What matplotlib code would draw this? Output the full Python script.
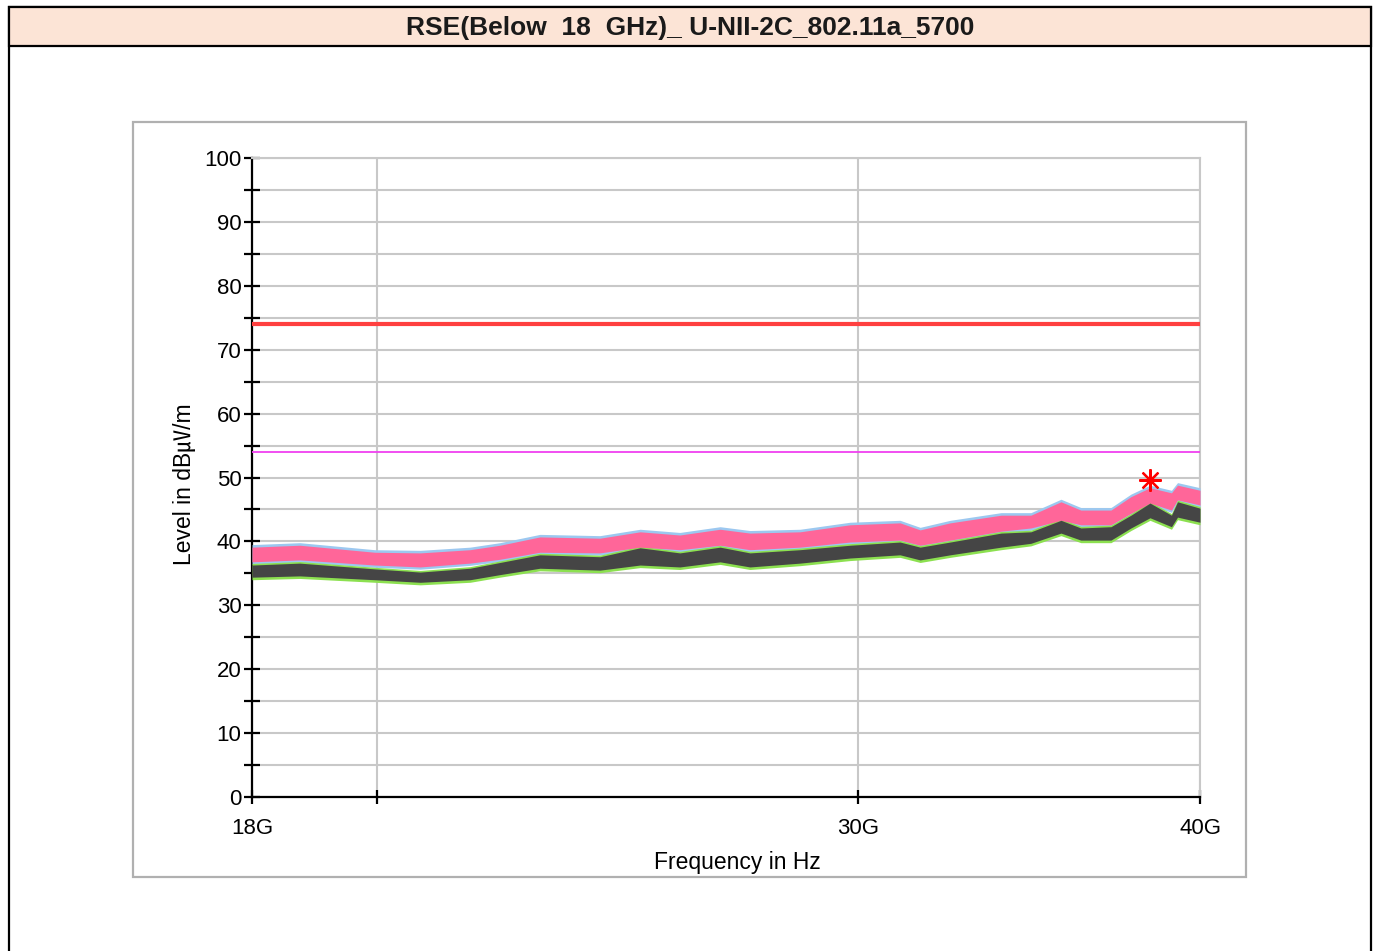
import matplotlib
matplotlib.use("Agg")
import matplotlib.pyplot as plt
from matplotlib.patches import Rectangle
from matplotlib.ticker import FixedLocator, NullFormatter, FixedFormatter

# ---------------- data ----------------
title_text = "RSE(Below  18  GHz)_ U-NII-2C_802.11a_5700"

freq_ghz = [18.0, 18.74, 19.96, 20.74, 21.63, 22.18, 22.94, 24.13, 24.96, 25.81,
            26.70, 27.38, 28.56, 29.79, 31.07, 31.60, 32.41, 33.83, 34.69, 35.58,
            36.18, 37.11, 37.74, 38.35, 39.05, 39.25, 40.0]

peak_hi = [39.1, 39.4, 38.3, 38.2, 38.7, 39.4, 40.7, 40.5, 41.5, 41.0,
           41.9, 41.3, 41.5, 42.6, 42.9, 41.8, 42.9, 44.1, 44.1, 46.2,
           44.9, 44.9, 47.0, 48.4, 47.6, 48.8, 48.0]
peak_lo = [36.8, 37.1, 36.3, 36.0, 36.6, 37.2, 38.3, 38.2, 39.1, 38.7,
           39.4, 38.7, 39.1, 39.9, 40.2, 39.4, 40.2, 41.6, 42.1, 43.3,
           42.6, 42.6, 44.4, 46.0, 44.9, 46.5, 45.7]
avg_hi = [36.3, 36.6, 35.7, 35.2, 35.8, 36.7, 37.9, 37.6, 39.0, 38.2,
          39.1, 38.2, 38.7, 39.4, 39.9, 39.1, 39.9, 41.3, 41.5, 43.3,
          42.1, 42.3, 44.1, 46.0, 44.1, 46.2, 45.2]
avg_lo = [34.4, 34.6, 34.0, 33.6, 34.0, 34.8, 35.8, 35.5, 36.3, 36.0,
          36.8, 36.0, 36.6, 37.4, 37.9, 37.1, 37.9, 39.1, 39.7, 41.3,
          40.2, 40.2, 42.1, 43.7, 42.3, 43.8, 43.0]

peak_limit = 74.0
avg_limit = 54.0
marker_freq = [38.35]
marker_level = [49.6]

x_ticks = [18e9, 20e9, 30e9, 40e9]
x_tick_labels = ["18G", "", "30G", "40G"]
y_major = [0, 10, 20, 30, 40, 50, 60, 70, 80, 90, 100]
y_minor = [5, 15, 25, 35, 45, 55, 65, 75, 85, 95]

# ---------------- figure ----------------
W, H = 1373, 951
fig = plt.figure(figsize=(W / 100, H / 100), dpi=100)
fig.patch.set_facecolor("white")
plt.rcParams["font.family"] = ["Liberation Sans", "Noto Sans CJK SC", "DejaVu Sans"]


def px_rect(x0, y0, x1, y1, **kw):
    r = Rectangle((x0 / W, 1 - y1 / H), (x1 - x0) / W, (y1 - y0) / H,
                  transform=fig.transFigure, **kw)
    fig.add_artist(r)


# outer frame and title band
px_rect(9, 7, 1371, 951 + 5, facecolor="white", edgecolor="black", lw=1.6, zorder=0)
px_rect(9, 7, 1371, 46, facecolor="#FCE4D6", edgecolor="black", lw=1.6, zorder=1)
fig.text(690 / W, 1 - 28 / H, title_text, ha="center", va="center",
         fontsize=19, fontweight="bold", color="#1a1a1a")

# grey chart panel
px_rect(133, 122, 1246, 877, facecolor="white", edgecolor="#B0B0B0", lw=1.6, zorder=1)

# axes
ax = fig.add_axes([252 / W, 1 - 797 / H, (1200 - 252) / W, (797 - 158) / H])
ax.set_zorder(2)
ax.set_xscale("log")
ax.set_xlim(18e9, 40e9)
ax.set_ylim(0, 100)

fz = [f * 1e9 for f in freq_ghz]
ax.fill_between(fz, [v - 0.35 for v in peak_lo], [v + 0.4 for v in peak_hi],
                color="#9CC8F0", lw=0, zorder=3)
ax.fill_between(fz, peak_lo, peak_hi, color="#FF6699", lw=0, zorder=4)
ax.fill_between(fz, [v - 0.4 for v in avg_lo], [v + 0.25 for v in avg_hi],
                color="#8CE050", lw=0, zorder=3)
ax.fill_between(fz, avg_lo, avg_hi, color="#454545", lw=0, zorder=4)

ax.axhline(peak_limit, color="#FF4040", lw=3, zorder=5)
ax.axhline(avg_limit, color="#F040F0", lw=1.3, zorder=5)
ax.plot([f * 1e9 for f in marker_freq], marker_level, linestyle="none",
        marker=(8, 2, 0), markersize=16, markeredgewidth=1.6, color="#FF0000", zorder=6)

# ticks / grid
ax.yaxis.set_major_locator(FixedLocator(y_major))
ax.yaxis.set_minor_locator(FixedLocator(y_minor))
ax.yaxis.set_minor_formatter(NullFormatter())
ax.xaxis.set_major_locator(FixedLocator(x_ticks))
ax.xaxis.set_major_formatter(FixedFormatter(x_tick_labels))
ax.xaxis.set_minor_locator(FixedLocator([]))
ax.xaxis.set_minor_formatter(NullFormatter())

ax.grid(True, which="both", axis="y", color="#C8C8C8", lw=1.5, zorder=1)
ax.grid(True, which="major", axis="x", color="#C8C8C8", lw=1.5, zorder=1)
ax.set_axisbelow(True)

for s in ("left", "bottom"):
    ax.spines[s].set_color("black")
    ax.spines[s].set_linewidth(1.6)
for s in ("top", "right"):
    ax.spines[s].set_color("#C8C8C8")
    ax.spines[s].set_linewidth(1.5)

ax.tick_params(axis="y", which="both", direction="inout", length=11, width=1.6,
               pad=2, labelsize=16, colors="black")
ax.tick_params(axis="x", which="both", direction="inout", length=10, width=1.6,
               pad=10, labelsize=16, colors="black")

ax.set_xlabel("Frequency in Hz", fontsize=16.5)
ax.xaxis.set_label_coords(0.5116, -0.085)
ax.set_ylabel("Level in dB㎶/m", fontsize=16.5)
ax.yaxis.set_label_coords(-0.059, 0.49)

fig.savefig("out.png", dpi=100)
